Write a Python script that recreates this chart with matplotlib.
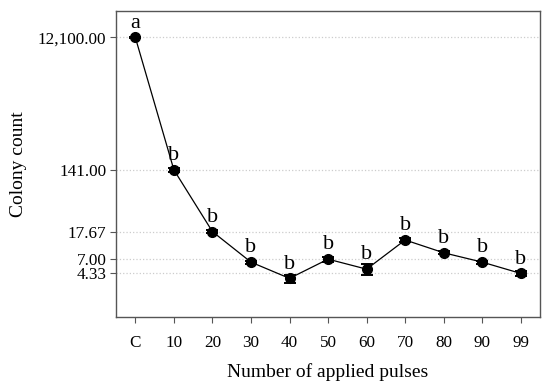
import numpy as np
import matplotlib
matplotlib.use("Agg")
import matplotlib.pyplot as plt
from matplotlib.ticker import NullLocator, FixedLocator, FixedFormatter

#data
pulses = ["C", "10", "20", "30", "40", "50", "60", "70", "80", "90", "99"]
colony = [12100, 141, 17.67, 6.33, 3.67, 7.00, 5.00, 13.33, 8.67, 6.33, 4.33]
err = [300, 8, 1.0, 0.35, 0.5, 0.6, 0.9, 1.0, 0.4, 0.35, 0.35]
groups = ["a", "b", "b", "b", "b", "b", "b", "b", "b", "b", "b"]
yticks = [4.33, 7.00, 17.67, 141.00, 12100.00]
ytick_labels = ["4.33", "7.00", "17.67", "141.00", "12,100.00"]

plt.rcParams["font.family"] = ["Liberation Serif", "DejaVu Serif"]

fig = plt.figure(figsize=(5.5, 3.89), dpi=100)
ax = fig.add_axes([0.211, 0.185, 0.771, 0.787])

x = np.arange(len(pulses))
ax.errorbar(x, colony, yerr=err, fmt="o-", color="black", lw=0.9,
            ms=7, capsize=4, elinewidth=1.2, capthick=1.4, zorder=3)

#group letters
for xi, yi, g in zip(x, colony, groups):
    ax.annotate(g, (xi, yi), xytext=(0, 7), textcoords="offset points",
                ha="center", va="baseline", fontsize=16)

ax.set_yscale("log")
ax.set_ylim(1.0, 29500)
ax.set_xlim(-0.5, 10.5)
ax.yaxis.set_major_locator(FixedLocator(yticks))
ax.yaxis.set_major_formatter(FixedFormatter(ytick_labels))
ax.yaxis.set_minor_locator(NullLocator())
ax.set_xticks(x)
ax.set_xticklabels(pulses)

ax.grid(axis="y", linestyle=":", color="#cccccc", lw=0.9)
ax.set_axisbelow(True)
ax.tick_params(labelsize=12.3, length=4, color="#555555", pad=3)
ax.tick_params(axis="x", pad=9)
for s in ax.spines.values():
    s.set_color("#555555")
    s.set_linewidth(1.0)

ax.set_xlabel("Number of applied pulses", fontsize=14, labelpad=9)
ax.set_ylabel("Colony count", fontsize=14, labelpad=8)

fig.savefig("out.png", dpi=100)
